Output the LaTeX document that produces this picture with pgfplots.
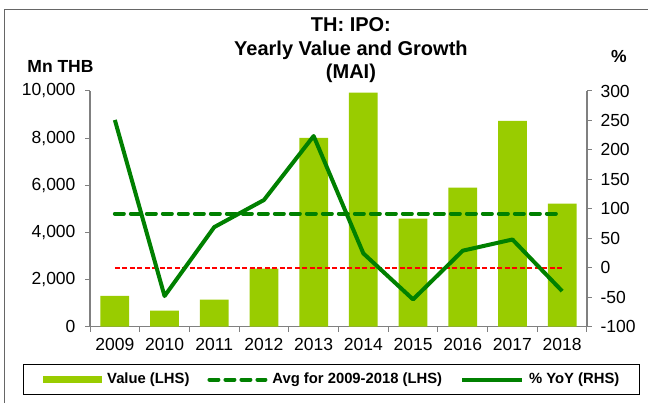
\documentclass[border=0pt]{standalone}
\usepackage{pgfplots}
\pgfplotsset{compat=1.18}
\usepackage{fontspec}
\setmainfont{Liberation Sans}
\definecolor{barc}{HTML}{99CC00}
\definecolor{linec}{HTML}{008000}
\definecolor{axc}{HTML}{808080}
\begin{document}
\begin{tikzpicture}
\useasboundingbox (0,0) rectangle (648pt,403pt);
\fill[white] (0,0) rectangle (648pt,403pt);
\draw[color=black!60, line width=1.3pt] (4.3pt,0) -- (4.3pt,393.7pt) -- (648pt,393.7pt);
\pgfplotsset{
 base/.style={at={(90pt,76.3pt)}, anchor=south west, width=497pt, height=235.7pt,
  scale only axis, xmin=-0.5, xmax=9.5, tick align=outside, major tick length=5pt,
  every tick/.style={axc, line width=1pt}, axis line style={axc, line width=1.3pt},
  tick label style={font=\fontsize{17.5}{20}\selectfont},
  /pgf/number format/assume math mode=true, clip=false}
}
\begin{axis}[base,
  axis x line*=bottom, axis y line*=left,
  ymin=0, ymax=10000, ytick={0,2000,4000,6000,8000,10000},
  scaled y ticks=false,
  /pgf/number format/1000 sep={,},
  xtick={-0.5,0.5,1.5,2.5,3.5,4.5,5.5,6.5,7.5,8.5,9.5},
  x tick label as interval,
  xticklabels={2009,2010,2011,2012,2013,2014,2015,2016,2017,2018},
  xticklabel style={yshift=-3.5pt},
  yticklabel style={xshift=-6pt},
  ylabel={Mn THB},
  ylabel style={at={(axis description cs:-0.0594,1.104)}, rotate=-90, anchor=center, font=\bfseries\fontsize{17.5}{20}\selectfont},
  title={TH: IPO:\\Yearly Value and Growth\\(MAI)},
  title style={at={(axis description cs:0.525,1.146)}, anchor=center, align=center, font=\bfseries\fontsize{20}{23.5}\selectfont},
]
\addplot[ybar, bar width=28.7pt, bar shift=0pt, fill=barc, draw=none] coordinates {
 (0,1304) (1,680) (2,1147) (3,2463) (4,8013) (5,9936) (6,4586) (7,5903) (8,8735) (9,5223)};
\addplot[linec, line width=4pt, dash pattern=on 9pt off 7pt, line cap=round] coordinates {(0,4800) (9,4800)};
\end{axis}
\begin{axis}[base,
  axis x line=none, axis y line*=right,
  ymin=-100, ymax=300, ytick={-100,-50,0,50,100,150,200,250,300},
  yticklabel style={xshift=5pt},
  ylabel={\%},
  ylabel style={at={(axis description cs:1.064,1.146)}, rotate=-90, anchor=center, font=\bfseries\fontsize{17.5}{20}\selectfont},
  legend columns=3, legend cell align=left,
  legend style={at={(axis description cs:-0.1348,-0.158)}, anchor=north west, draw=black, line width=0.8pt,
    inner xsep=20pt, inner ysep=8pt, font=\bfseries\fontsize{14.8}{17}\selectfont,
    nodes={inner sep=0pt, text height=11pt, text depth=3.5pt},
    /tikz/every odd column/.append style={column sep=5pt},
    /tikz/every even column/.append style={column sep=18pt}},
]
\addlegendimage{legend image code/.code={\fill[barc] (0pt,-3pt) rectangle (58pt,3pt);}}
\addlegendentry{Value (LHS)}
\addlegendimage{legend image code/.code={\draw[linec, line width=4pt, dash pattern=on 9pt off 7pt, line cap=round] (2pt,0pt) -- (58pt,0pt);}}
\addlegendentry{Avg for 2009-2018 (LHS)}
\addplot[red, line width=1.5pt, dash pattern=on 5pt off 2.5pt, forget plot] coordinates {(0,0) (9,0)};
\addplot[linec, line width=4pt, line join=round, legend image code/.code={\draw[linec, line width=4pt] (0pt,0pt) -- (60pt,0pt);}] coordinates {
 (0,250.8) (1,-48) (2,69) (3,115) (4,223.6) (5,24.4) (6,-53.7) (7,29) (8,48) (9,-39.6)};
\addlegendentry{\% YoY (RHS)}
\end{axis}
\end{tikzpicture}
\end{document}
